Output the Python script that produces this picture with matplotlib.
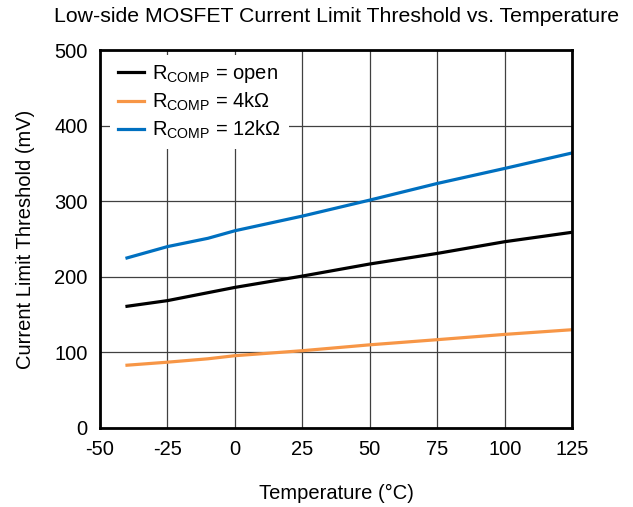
import matplotlib
matplotlib.use("Agg")
import matplotlib.pyplot as plt

plt.rcParams['font.family'] = ['Liberation Sans', 'DejaVu Sans']
plt.rcParams['mathtext.fontset'] = 'custom'
plt.rcParams['mathtext.rm'] = 'Liberation Sans'
plt.rcParams['axes.unicode_minus'] = False

temp = [-40, -25, -10, 0, 25, 50, 75, 100, 125]
open_mv = [161, 168.5, 179, 186, 201, 217, 231, 246.5, 259]
r4k_mv = [83, 87, 91.5, 95.6, 102.2, 110, 116.8, 123.8, 130]
r12k_mv = [225, 240, 251, 261, 280.4, 301.6, 323.6, 343.5, 364]

labels = ['R$_{\\mathrm{COMP}}$ = open', 'R$_{\\mathrm{COMP}}$ = 4kΩ',
          'R$_{\\mathrm{COMP}}$ = 12kΩ']

fig = plt.figure(figsize=(6.33, 5.07), dpi=100)
ax = fig.add_axes([0.158, 0.156, 0.746, 0.745])

ax.plot(temp, open_mv, color='black', lw=2.3, label=labels[0])
ax.plot(temp, r4k_mv, color='#f79646', lw=2.3, label=labels[1])
ax.plot(temp, r12k_mv, color='#0070c0', lw=2.3, label=labels[2])

ax.set_xlim(-50, 125)
ax.set_ylim(0, 500)
ax.set_xticks(range(-50, 126, 25))
ax.set_yticks(range(0, 501, 100))
ax.grid(True, color='#404040', lw=0.9)
ax.set_axisbelow(True)
ax.tick_params(length=0, labelsize=14.5, pad=9)
for s in ax.spines.values():
    s.set_linewidth(2)

ax.set_title('Low-side MOSFET Current Limit Threshold vs. Temperature', fontsize=15.3, pad=20)
ax.set_xlabel('Temperature (°C)', fontsize=14.5, labelpad=18)
ax.set_ylabel('Current Limit Threshold (mV)', fontsize=14.5, labelpad=14)

leg = ax.legend(loc='upper left', bbox_to_anchor=(0, 1.013), fontsize=14.5,
                frameon=True, fancybox=False, edgecolor='none', framealpha=1,
                handlelength=1.3, labelspacing=0.28, borderaxespad=0.5,
                handletextpad=0.4)

fig.savefig('out.png', dpi=100)
